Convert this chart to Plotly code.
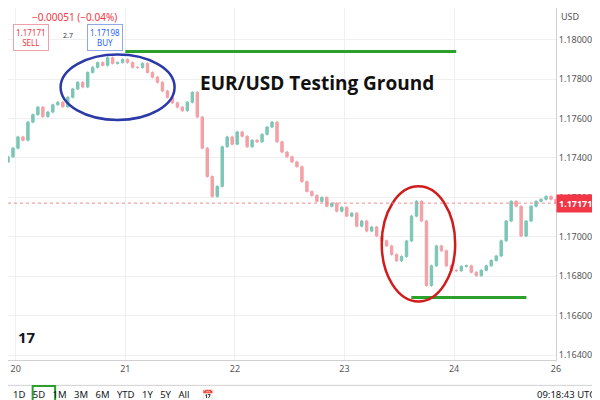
import numpy as np
import plotly.graph_objects as go

closes = [1.17406,1.1745,1.17507,1.1749,1.17582,1.1762,1.17658,1.1761,1.17633,1.1767,1.17683,1.1766,1.17708,1.1775,1.17784,1.1776,1.17834,1.1786,1.17884,1.1787,1.17909,1.1788,1.17884,1.1790,1.17884,1.1786,1.17859,1.1788,1.17834,1.1781,1.17784,1.1774,1.17708,1.1768,1.17658,1.1764,1.17683,1.17733,1.17608,1.1745,1.17306,1.17205,1.17256,1.17457,1.17507,1.1747,1.17532,1.1751,1.17457,1.1749,1.17482,1.1752,1.17557,1.17582,1.17482,1.1743,1.17406,1.1738,1.17356,1.1728,1.1723,1.1721,1.1718,1.1720,1.17155,1.1717,1.1713,1.1715,1.17105,1.1712,1.17054,1.1708,1.17029,1.1705,1.17004,1.1698,1.16954,1.1691,1.16878,1.1690,1.16979,1.17105,1.1718,1.1708,1.16753,1.16853,1.16954,1.16929,1.16853,1.1683,1.16828,1.1685,1.16853,1.1682,1.16803,1.1683,1.16853,1.1688,1.16903,1.1698,1.1708,1.1718,1.17155,1.17004,1.1708,1.17155,1.1718,1.1719,1.17205,1.1719,1.17171]
first_open = 1.17380
start_day = 19.93
bar_step = 5 / 110.0
tick_vals = [20, 21, 22, 23, 24, 24.93]
tick_text = ["20", "21", "22", "23", "24", "26"]
price_ticks = [1.164, 1.166, 1.168, 1.170, 1.172, 1.174, 1.176, 1.178, 1.180]
price_text = ["1.16400", "1.16600", "1.16800", "1.17000", "1.17200", "1.17400", "1.17600", "1.17800", "1.18000"]
last_price = 1.17171

opens = [first_open] + closes[:-1]
highs = [max(o, c) + 0.00006 for o, c in zip(opens, closes)]
lows = [min(o, c) - 0.00006 for o, c in zip(opens, closes)]
xs = start_day + np.arange(len(closes)) * bar_step

fig = go.Figure(go.Candlestick(
    x=xs, open=opens, high=highs, low=lows, close=closes,
    increasing=dict(line=dict(color="#7cc6b6", width=1), fillcolor="#7cc6b6"),
    decreasing=dict(line=dict(color="#f3a0a7", width=1), fillcolor="#f3a0a7"),
    whiskerwidth=0, showlegend=False))

fig.update_layout(
    width=600, height=400, margin=dict(l=0, r=52, t=0, b=48),
    paper_bgcolor="white", plot_bgcolor="white",
    font=dict(family="Noto Sans", color="#555", size=9),
    xaxis=dict(range=[start_day, start_day + 5], tickvals=tick_vals, ticktext=tick_text,
               showgrid=True, gridcolor="#f0f0f0", rangeslider=dict(visible=False),
               zeroline=False, showline=True, linecolor="#d0d0d0", ticks=""),
    yaxis=dict(side="right", range=[1.16375, 1.18161], tickvals=price_ticks, ticktext=price_text,
               showgrid=True, gridcolor="#f0f0f0", zeroline=False,
               showline=True, linecolor="#d0d0d0", ticks=""),
)

shapes = [
    dict(type="line", x0=21.0, x1=24.02, y0=1.1794, y1=1.1794, line=dict(color="#2ca02c", width=3)),
    dict(type="line", x0=23.61, x1=24.66, y0=1.16692, y1=1.16692, line=dict(color="#2ca02c", width=3)),
    dict(type="circle", x0=20.41, x1=21.45, y0=1.17593, y1=1.17925, line=dict(color="#2b3aa8", width=2.5)),
    dict(type="circle", x0=23.34, x1=24.01, y0=1.16672, y1=1.17256, line=dict(color="#d01c1c", width=2.5)),
    dict(type="line", x0=start_day, x1=start_day + 5, y0=last_price, y1=last_price, line=dict(color="#f08a93", width=1, dash="dot")),
    dict(type="line", xref="paper", yref="paper", x0=0, x1=1.1, y0=-0.072, y1=-0.072, line=dict(color="#d0d0d0", width=1)),
    dict(type="rect", xref="paper", yref="paper", x0=0.045, x1=0.086, y0=-0.125, y1=-0.074, line=dict(color="#2ca02c", width=2)),
]
fig.update_layout(shapes=shapes)

ann = [
    dict(x=22.75, y=1.1778, text="<b>EUR/USD Testing Ground</b>", showarrow=False, font=dict(size=19, color="#111", family="Open Sans")),
    dict(x=start_day + 5, y=last_price, xanchor="left", text="<b>1.17171</b>", showarrow=False,
         bgcolor="#f23645", borderpad=2, font=dict(color="white", size=9)),
    dict(xref="paper", yref="paper", x=1.005, y=1.0, xanchor="left", yanchor="top", text="USD", showarrow=False, font=dict(size=9)),
    dict(xref="paper", yref="paper", x=0.04, y=1.0, xanchor="left", yanchor="top", text="−0.00051 (−0.04%)", showarrow=False, font=dict(size=10, color="#f23645")),
    dict(xref="paper", yref="paper", x=0.01, y=0.955, xanchor="left", yanchor="top", text="1.17171<br>SELL", showarrow=False,
         font=dict(size=8, color="#f23645"), bordercolor="#f0a0a8", borderpad=2, bgcolor="white"),
    dict(xref="paper", yref="paper", x=0.145, y=0.955, xanchor="left", yanchor="top", text="1.17198<br>BUY", showarrow=False,
         font=dict(size=8, color="#2962ff"), bordercolor="#90a8e8", borderpad=2, bgcolor="white"),
    dict(xref="paper", yref="paper", x=0.11, y=0.94, xanchor="center", yanchor="top", text="2.7", showarrow=False, font=dict(size=7, color="#333")),
    dict(xref="paper", yref="paper", x=0.015, y=0.03, xanchor="left", yanchor="bottom", text="<b>17</b>", showarrow=False, font=dict(size=15, color="#131722")),
    dict(xref="paper", yref="paper", x=0.005, y=-0.099, xanchor="left", yanchor="middle",
         text="1D   5D   1M   3M   6M   YTD   1Y   5Y   All     📅", showarrow=False, font=dict(size=9.5, color="#131722")),
    dict(xref="paper", yref="paper", x=1.075, y=-0.099, xanchor="right", yanchor="middle", text="09:18:43 UTC", showarrow=False, font=dict(size=9.5, color="#131722")),
]
fig.update_layout(annotations=ann)
fig.write_html("out.html")
